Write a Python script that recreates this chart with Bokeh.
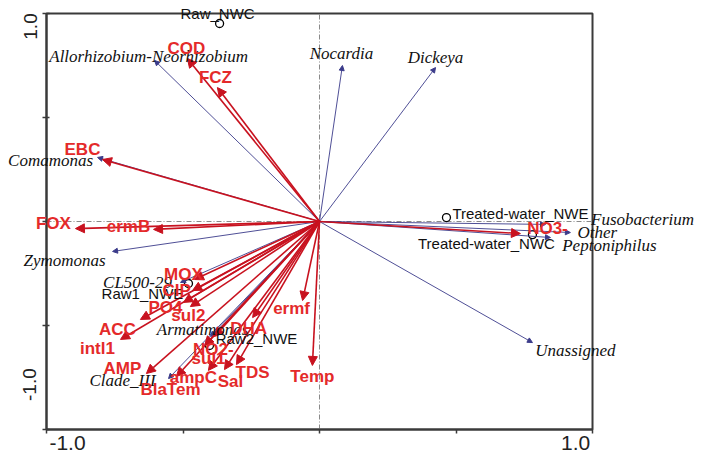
import numpy as np
from bokeh.plotting import figure
from bokeh.models import (ColumnDataSource, Arrow, NormalHead, LabelSet,
                          LinearAxis, FixedTicker, Range1d)
from bokeh.core.properties import value
from bokeh.embed import file_html
from bokeh.resources import INLINE

# ---------------- data ----------------
env_names = ["COD", "FCZ", "EBC", "FOX", "ermB", "MOX", "CIP", "PO4", "sul2", "ACC",
             "intl1", "AMP", "BlaTem", "ampC", "Sal", "TDS", "Temp", "ermf", "DHA",
             "NO2-", "sul1", "NO3-"]
env_x = [-0.484, -0.374, -0.795, -0.894, -0.608, -0.458, -0.465, -0.498, -0.473, -0.656,
         -0.729, -0.634, -0.524, -0.407, -0.348, -0.304, -0.026, -0.062, -0.245,
         -0.385, -0.421, 0.736]
env_y = [0.784, 0.644, 0.298, -0.034, -0.038, -0.279, -0.332, -0.389, -0.409, -0.471,
         -0.567, -0.731, -0.745, -0.716, -0.712, -0.688, -0.692, -0.380, -0.462,
         -0.553, -0.596, -0.058]

taxa_names = ["Allorhizobium-Neorhizobium", "Nocardia", "Dickeya", "Comamonas", "Zymomonas",
              "Fusobacterium", "Other", "Peptoniphilus", "Unassigned", "CL500-29",
              "Armatimonas", "Clade_III"]
taxa_x = [-0.604, 0.084, 0.425, -0.813, -0.758, 0.828, 0.919, 0.846, 0.780, -0.509, -0.399, -0.553]
taxa_y = [0.774, 0.750, 0.740, 0.308, -0.144, -0.014, -0.053, -0.077, -0.582, -0.293, -0.553, -0.755]

site_names = ["Raw_NWC", "Raw1_NWE", "Raw2_NWE", "Treated-water_NWE", "Treated-water_NWC"]
site_x = [-0.366, -0.480, -0.403, 0.465, 0.780]
site_y = [0.952, -0.298, -0.596, 0.019, -0.063]

axis_ticks = [-1.0, -0.5, 0.0, 0.5, 1.0]
end_tick_labels = ["-1.0", "1.0"]

# ---------------- label placement (screen px offsets) ----------------
env_dx = [-1, -2, -20, -22, -25, -11, -16, -18, -2, -23, -23, -24, -6, -15, 6, 16, 0, -11, -4, -1, 4, 27]
env_dy = [10, 10, 10, 5, 3, 5, 0, -5, -9, -10, -9, 5, -13, -7, -12, -8, -11, -8, -11, -13, -13, 5]
taxa_dx = [-6, -1, 0, -47, -48, 97, 27, 59, 43, -43, -8, -46]
taxa_dy = [4, 12, 10, -3, -9, 5, 0, -8, -8, 0, 7, -2]
site_dx = [-2, -46, 47, 74, -46]
site_dy = [10, -10, 7, 4, -9]

RED_ARROW = "#c8121f"
RED_TEXT = "#e42a2a"
NAVY = "#3b3b8a"
AXIS_C = "#3a3a3a"

lo, hi = axis_ticks[0], axis_ticks[-1]

# the frame covers the whole canvas; the ordination box [-1, 1] sits inside it
p = figure(width=710, height=461,
           x_range=Range1d(-1.1685, 1.4322), y_range=Range1d(-1.1538, 1.0625),
           output_backend="svg", toolbar_location=None,
           x_axis_location=None, y_axis_location=None,
           min_border_left=0, min_border_right=0, min_border_top=0, min_border_bottom=0)
p.xgrid.visible = False
p.ygrid.visible = False
p.outline_line_color = None
p.background_fill_color = "white"
p.border_fill_color = "white"

# box around the ordination space
p.quad(left=[lo], right=[hi], bottom=[lo], top=[hi], fill_color=None,
       line_color=AXIS_C, line_width=2)

# zero reference lines inside the box
p.segment(x0=[0, lo], y0=[lo, 0], x1=[0, hi], y1=[hi, 0], line_color="#8a8a8a",
          line_dash="5 2 1 2", line_width=1)

# tick-only axes fixed on the box edges
xa = LinearAxis(ticker=FixedTicker(ticks=axis_ticks), fixed_location=lo, bounds=(lo, hi),
                major_label_overrides={t: "" for t in axis_ticks},
                major_label_text_font_size="0px", major_label_standoff=0,
                major_tick_out=4, major_tick_in=0, minor_tick_line_color=None,
                axis_line_width=2, axis_line_color=AXIS_C,
                major_tick_line_width=1.5, major_tick_line_color=AXIS_C)
p.add_layout(xa, "below")
ya = LinearAxis(ticker=FixedTicker(ticks=axis_ticks), fixed_location=lo, bounds=(lo, hi),
                major_label_overrides={t: "" for t in axis_ticks},
                major_label_text_font_size="0px", major_label_standoff=0,
                major_tick_out=4, major_tick_in=3, minor_tick_line_color=None,
                axis_line_width=2, axis_line_color=AXIS_C,
                major_tick_line_width=1.5, major_tick_line_color=AXIS_C)
p.add_layout(ya, "left")

# end labels placed inward of the box corners
xlab_pos = [-0.923, 0.938]
ylab_pos = [-0.784, 0.9375]
xl = LinearAxis(ticker=FixedTicker(ticks=xlab_pos), fixed_location=lo,
                major_label_overrides=dict(zip(xlab_pos, end_tick_labels)),
                axis_line_color=None, major_tick_line_color=None, minor_tick_line_color=None,
                major_tick_out=0, major_tick_in=0,
                major_label_text_font_size="21px", major_label_text_font="Liberation Sans",
                major_label_text_color="#222222", major_label_standoff=6)
p.add_layout(xl, "below")
yl = LinearAxis(ticker=FixedTicker(ticks=ylab_pos), fixed_location=lo,
                major_label_overrides=dict(zip(ylab_pos, end_tick_labels)),
                axis_line_color=None, major_tick_line_color=None, minor_tick_line_color=None,
                major_tick_out=0, major_tick_in=0,
                major_label_text_font_size="19px", major_label_text_font="Liberation Sans",
                major_label_text_color="#222222", major_label_standoff=10,
                major_label_orientation="vertical")
p.add_layout(yl, "left")

# taxa arrows (navy)
taxa_src = ColumnDataSource(dict(x0=np.zeros(len(taxa_x)), y0=np.zeros(len(taxa_y)),
                                 x=taxa_x, y=taxa_y, name=taxa_names,
                                 dx=taxa_dx, dy=taxa_dy))
p.add_layout(Arrow(end=NormalHead(size=5, fill_color=NAVY, line_color=NAVY, line_width=1),
                   x_start="x0", y_start="y0", x_end="x", y_end="y",
                   line_color=NAVY, line_width=0.9, source=taxa_src))

# environmental / gene arrows (red)
env_src = ColumnDataSource(dict(x0=np.zeros(len(env_x)), y0=np.zeros(len(env_y)),
                                x=env_x, y=env_y, name=env_names,
                                dx=env_dx, dy=env_dy))
p.add_layout(Arrow(end=NormalHead(size=9, fill_color=RED_ARROW, line_color=RED_ARROW, line_width=1),
                   x_start="x0", y_start="y0", x_end="x", y_end="y",
                   line_color=RED_ARROW, line_width=1.6, source=env_src))

# sample sites
site_src = ColumnDataSource(dict(x=site_x, y=site_y, name=site_names, dx=site_dx, dy=site_dy))
p.scatter("x", "y", source=site_src, marker="circle", size=8, fill_color=None,
          line_color="black", line_width=1.3)

# labels
p.add_layout(LabelSet(x="x", y="y", text="name", x_offset="dx", y_offset="dy", source=taxa_src,
                      text_font=value("Liberation Serif"), text_font_style="italic",
                      text_font_size="17px", text_color="#111111",
                      text_align="center", text_baseline="middle"))
p.add_layout(LabelSet(x="x", y="y", text="name", x_offset="dx", y_offset="dy", source=site_src,
                      text_font=value("Liberation Sans"), text_font_size="15px",
                      text_color="#111111", text_align="center", text_baseline="middle"))
p.add_layout(LabelSet(x="x", y="y", text="name", x_offset="dx", y_offset="dy", source=env_src,
                      text_font=value("Liberation Sans"), text_font_style="bold",
                      text_font_size="17px", text_color=RED_TEXT,
                      text_align="center", text_baseline="middle"))

open("out.html", "w").write(file_html(p, INLINE))
